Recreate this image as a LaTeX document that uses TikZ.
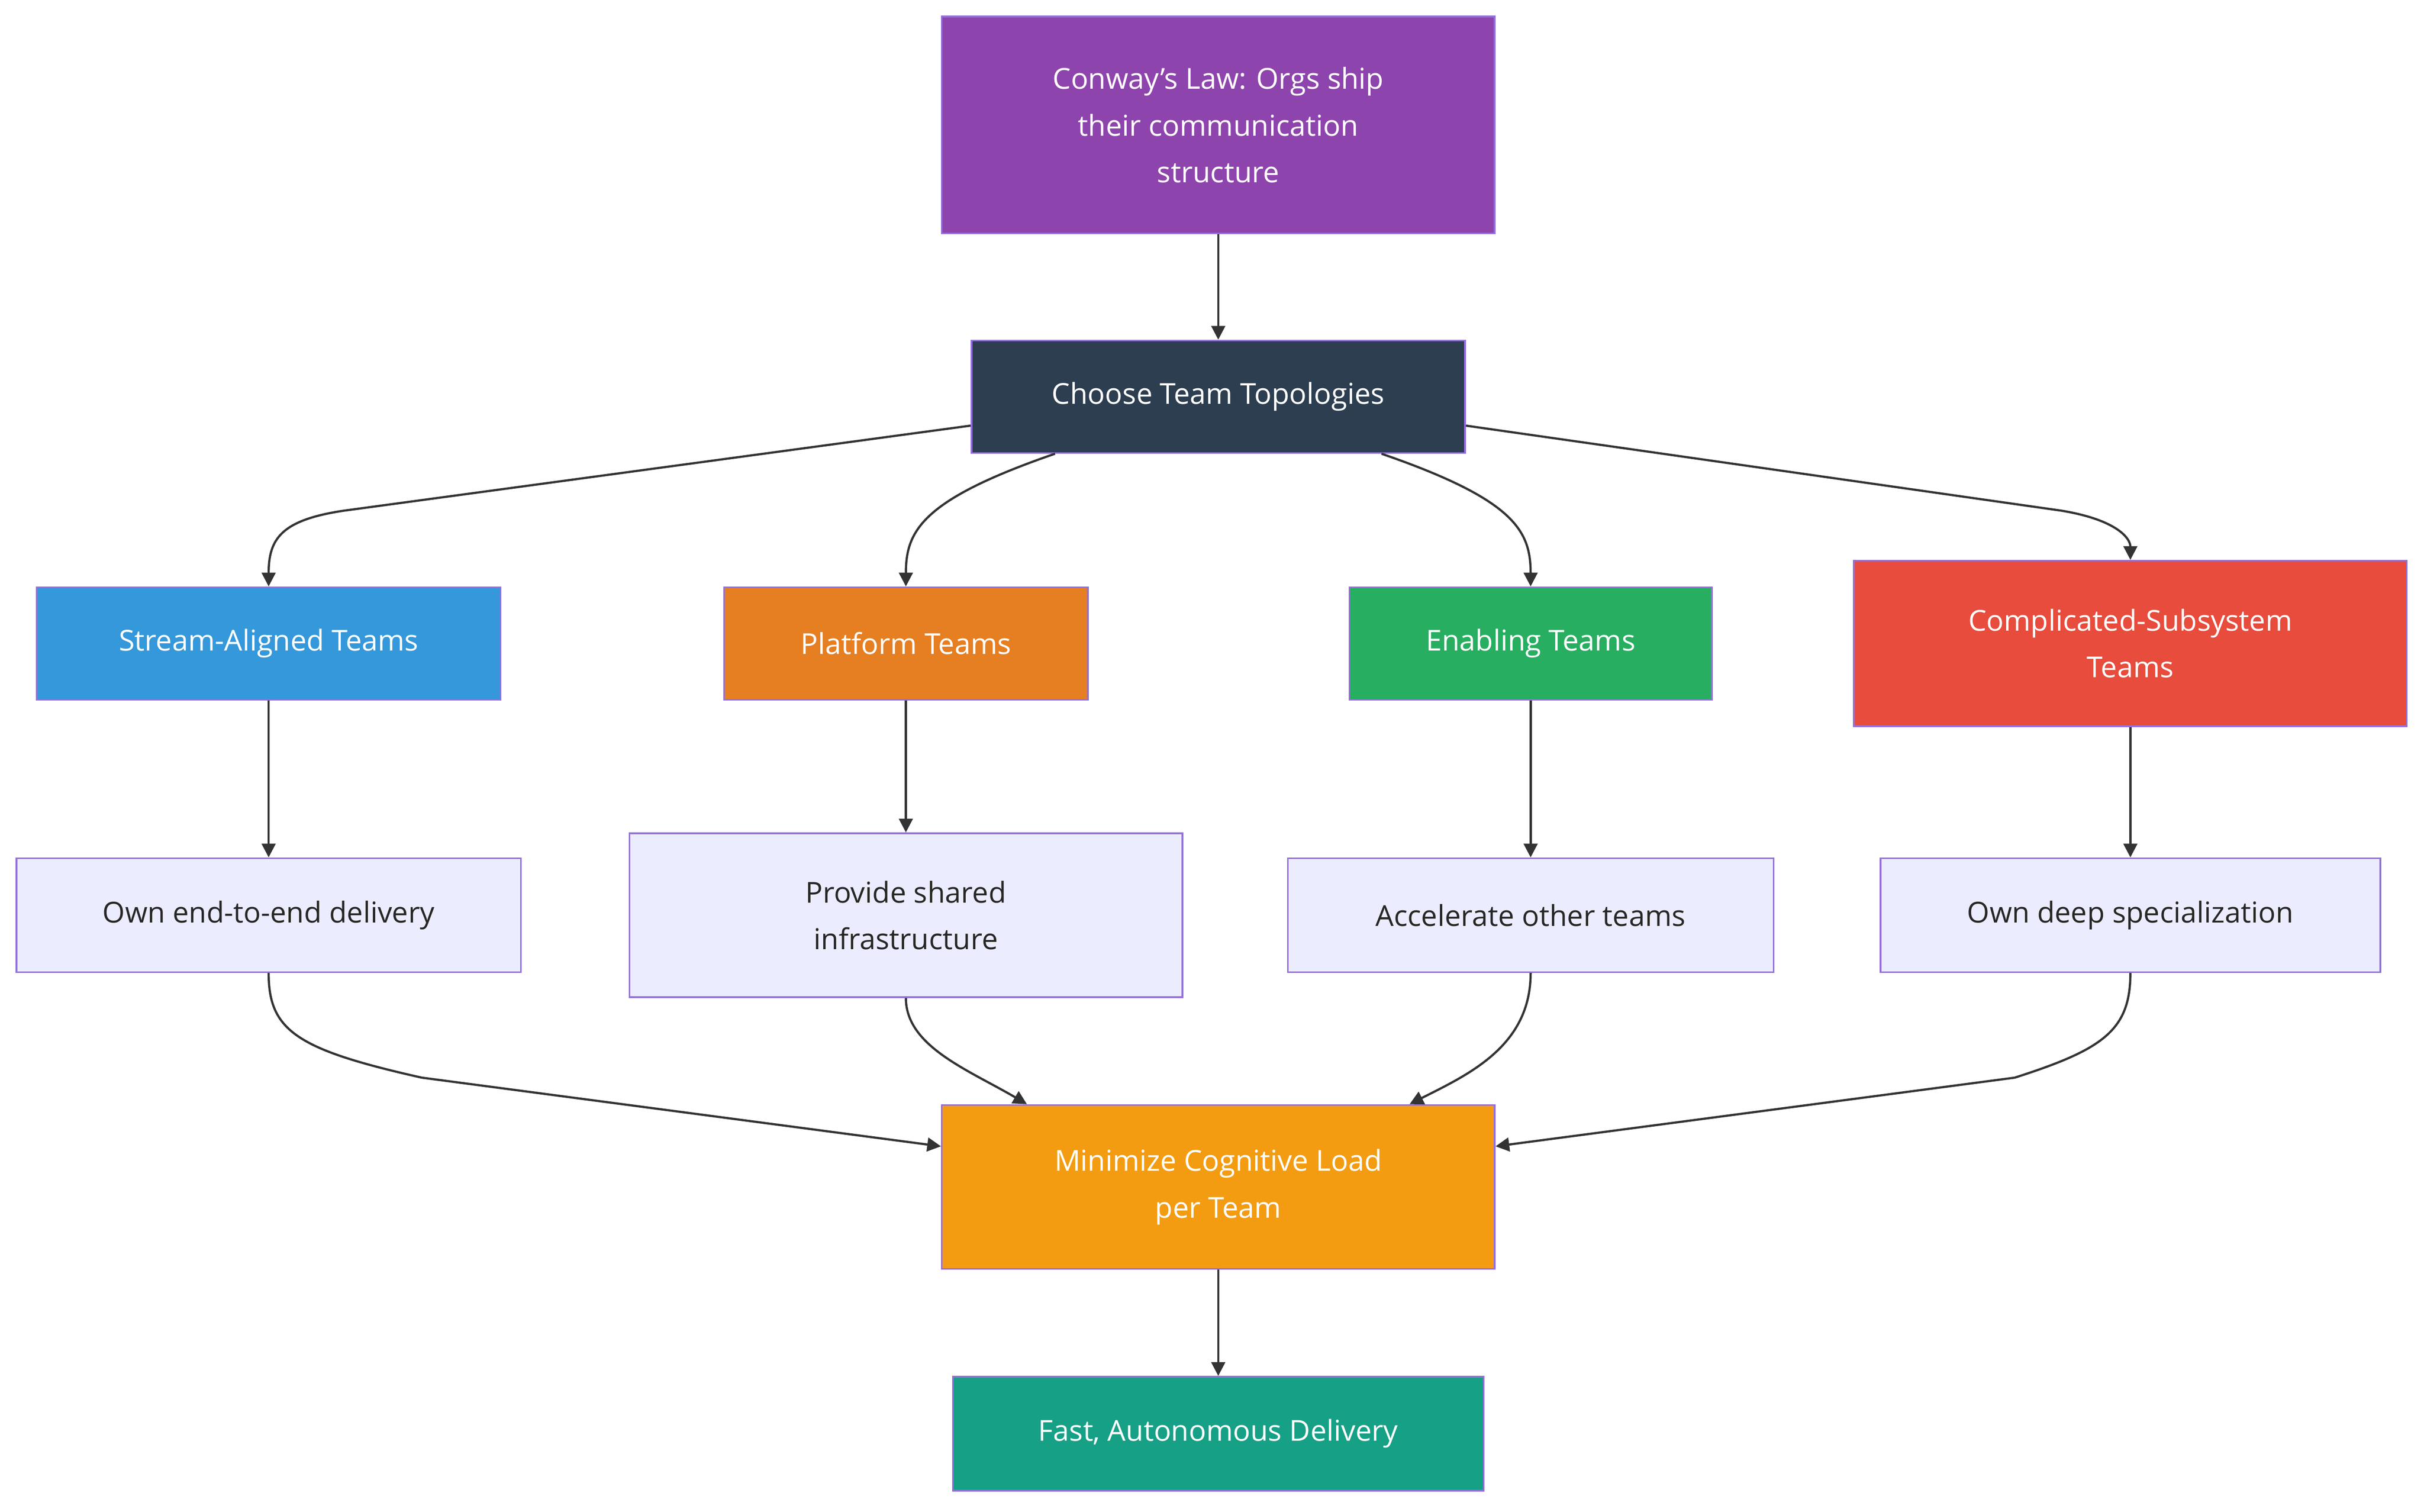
\documentclass[tikz,border=0pt]{standalone}
\usepackage{fontspec}
\setmainfont{Open Sans}
\usetikzlibrary{arrows.meta,calc}
\definecolor{bd}{HTML}{9370DB}
\definecolor{lav}{HTML}{ECECFF}
\definecolor{ln}{HTML}{333333}
\begin{document}
\begin{tikzpicture}[x=0.02cm,y=-0.02cm,
  box/.style={draw=bd,line width=0.6pt,minimum width=#1*0.02cm,align=center,inner sep=0pt,font=\fontsize{10.5}{17}\selectfont},
  col/.style={fill=#1,text=white},
  pale/.style={fill=lav,text=black!85},
  ar/.style={draw=ln,line width=0.8pt,-{Triangle[length=5pt,width=5pt]}}]
\path[use as bounding box] (0,0) rectangle (1552,968);
\definecolor{c1}{HTML}{8E44AD}\definecolor{c2}{HTML}{2C3E50}\definecolor{c3}{HTML}{3498DB}
\definecolor{c4}{HTML}{E67E22}\definecolor{c5}{HTML}{27AE60}\definecolor{c6}{HTML}{E74C3C}
\definecolor{c7}{HTML}{F39C12}\definecolor{c8}{HTML}{16A085}
\node[box=354,col=c1,minimum height=2.78cm] (conway) at (780,80) {Conway's Law: Orgs ship\\their communication\\structure};
\node[box=316,col=c2,minimum height=1.44cm] (choose) at (780,254) {Choose Team Topologies};
\node[box=297,col=c3,minimum height=1.44cm] (stream) at (172,412) {Stream-Aligned Teams};
\node[box=233,col=c4,minimum height=1.44cm] (plat) at (580,412) {Platform Teams};
\node[box=232,col=c5,minimum height=1.44cm] (enab) at (980,412) {Enabling Teams};
\node[box=354,col=c6,minimum height=2.12cm] (comp) at (1364,412) {Complicated-Subsystem\\Teams};
\node[box=323,pale,minimum height=1.46cm] (own) at (172,586) {Own end-to-end delivery};
\node[box=354,pale,minimum height=2.1cm] (prov) at (580,586) {Provide shared\\infrastructure};
\node[box=311,pale,minimum height=1.46cm] (acc) at (980,586) {Accelerate other teams};
\node[box=320,pale,minimum height=1.46cm] (deep) at (1364,586) {Own deep specialization};
\node[box=354,col=c7,minimum height=2.1cm] (mini) at (780,760) {Minimize Cognitive Load\\per Team};
\node[box=340,col=c8,minimum height=1.46cm] (fast) at (780,918) {Fast, Autonomous Delivery};
\draw[ar] (conway) -- (choose);
\draw[ar] ($(choose.south west)+(0,-18)$) -- (220,327) .. controls (180,333) and (172,345) .. (stream.north);
\draw[ar] ($(choose.south west)+(54,0)$) .. controls (590,320) and (580,340) .. (plat.north);
\draw[ar] ($(choose.south east)+(-54,0)$) .. controls (970,320) and (980,340) .. (enab.north);
\draw[ar] ($(choose.south east)+(0,-18)$) -- (1320,327) .. controls (1356,333) and (1364,345) .. (comp.north);
\draw[ar] (stream) -- (own);
\draw[ar] (plat) -- (prov);
\draw[ar] (enab) -- (acc);
\draw[ar] (comp) -- (deep);
\draw[ar] (own.south) .. controls (172,660) and (190,672) .. (270,690) -- ($(mini.north west)+(0,27)$);
\draw[ar] (prov.south) .. controls (580,670) and (620,685) .. ($(mini.north west)+(55,0)$);
\draw[ar] (acc.south) .. controls (980,670) and (940,688) .. ($(mini.north east)+(-55,0)$);
\draw[ar] (deep.south) .. controls (1364,660) and (1346,672) .. (1290,690) -- ($(mini.north east)+(0,27)$);
\draw[ar] (mini) -- (fast);
\end{tikzpicture}
\end{document}
